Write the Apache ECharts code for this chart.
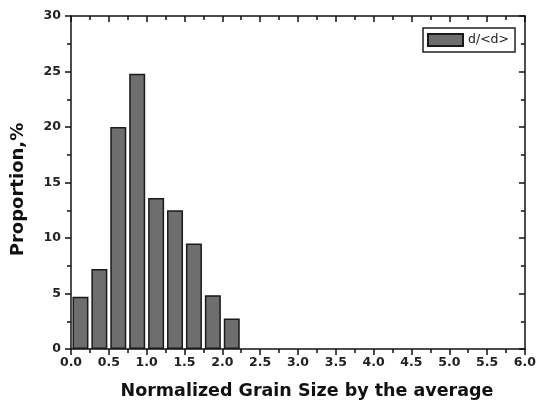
<!DOCTYPE html>
<html>
<head>
<meta charset="utf-8">
<script src="https://cdn.jsdelivr.net/npm/echarts@6/dist/echarts.min.js"></script>
<style>html,body{margin:0;padding:0;background:#fff;}#c{width:539px;height:405px;}</style>
</head>
<body>
<div id="c"></div>
<script>
// Bin centers (normalized grain size d/<d>) and proportions (%)
const binCenters = [0.125, 0.375, 0.625, 0.875, 1.125, 1.375, 1.625, 1.875, 2.125];
const proportions = [4.7, 7.2, 20.0, 24.8, 13.6, 12.5, 9.5, 4.85, 2.75];
const seriesName = 'd/<d>';
const xTitle = 'Normalized Grain Size by the average';
const yTitle = 'Proportion,%';

const chart = echarts.init(document.getElementById('c'), null, {renderer: 'canvas'});
const FONT = 'DejaVu Sans';
const axisLineStyle = {color: '#111', width: 1.5};

const option = {
  animation: false,
  backgroundColor: '#fff',
  grid: {left: 71, right: 13, top: 16, bottom: 55},
  legend: {
    data: [seriesName],
    left: 423, top: 28,
    orient: 'horizontal',
    borderColor: '#222', borderWidth: 1.5, borderRadius: 0,
    padding: [5, 6, 5, 4],
    itemWidth: 35, itemHeight: 12, itemGap: 5,
    icon: 'rect',
    textStyle: {fontFamily: FONT, fontSize: 12.5, color: '#222'}
  },
  xAxis: [{
    type: 'value', min: 0, max: 6, interval: 0.5, position: 'bottom',
    axisLine: {show: true, onZero: false, lineStyle: axisLineStyle},
    axisTick: {show: true, inside: false, length: 6, lineStyle: axisLineStyle},
    minorTick: {show: true, splitNumber: 2, length: 4, lineStyle: {color: '#111', width: 1.5}},
    splitLine: {show: false},
    axisLabel: {margin: 7, fontFamily: FONT, fontWeight: 'bold', fontSize: 12.5, color: '#222',
      formatter: v => v.toFixed(1)},
    name: xTitle, nameLocation: 'middle', nameGap: 33,
    nameTextStyle: {fontFamily: FONT, fontWeight: 'bold', fontSize: 17.5, color: '#111', padding: [0, 0, 0, 18]}
  }, {
    type: 'value', min: 0, max: 6, interval: 0.5, position: 'top',
    axisLine: {show: true, onZero: false, lineStyle: axisLineStyle},
    axisTick: {show: true, inside: true, length: 6, lineStyle: axisLineStyle},
    minorTick: {show: true, splitNumber: 2, length: 4, lineStyle: {color: '#111', width: 1.5}},
    splitLine: {show: false},
    axisLabel: {show: false}
  }],
  yAxis: [{
    type: 'value', min: 0, max: 30, interval: 5, position: 'left',
    axisLine: {show: true, onZero: false, lineStyle: axisLineStyle},
    axisTick: {show: true, inside: false, length: 6, lineStyle: axisLineStyle},
    minorTick: {show: true, splitNumber: 2, length: 4, lineStyle: {color: '#111', width: 1.5}},
    splitLine: {show: false},
    axisLabel: {margin: 10, fontFamily: FONT, fontWeight: 'bold', fontSize: 12.5, color: '#222'},
    name: yTitle, nameLocation: 'middle', nameGap: 44, nameRotate: 90,
    nameTextStyle: {fontFamily: FONT, fontWeight: 'bold', fontSize: 18, color: '#111', padding: [0, 14, 0, 0]}
  }, {
    type: 'value', min: 0, max: 30, interval: 5, position: 'right',
    axisLine: {show: true, onZero: false, lineStyle: axisLineStyle},
    axisTick: {show: true, inside: true, length: 6, lineStyle: axisLineStyle},
    minorTick: {show: true, splitNumber: 2, length: 4, lineStyle: {color: '#111', width: 1.5}},
    splitLine: {show: false},
    axisLabel: {show: false}
  }],
  series: [{
    name: seriesName,
    type: 'bar',
    xAxisIndex: 0, yAxisIndex: 0,
    barWidth: 16,
    data: binCenters.map((x, i) => [x, proportions[i]]),
    itemStyle: {color: '#6e6e6e', borderColor: '#1a1a1a', borderWidth: 1.5}
  }]
};
chart.setOption(option);
</script>
</body>
</html>
